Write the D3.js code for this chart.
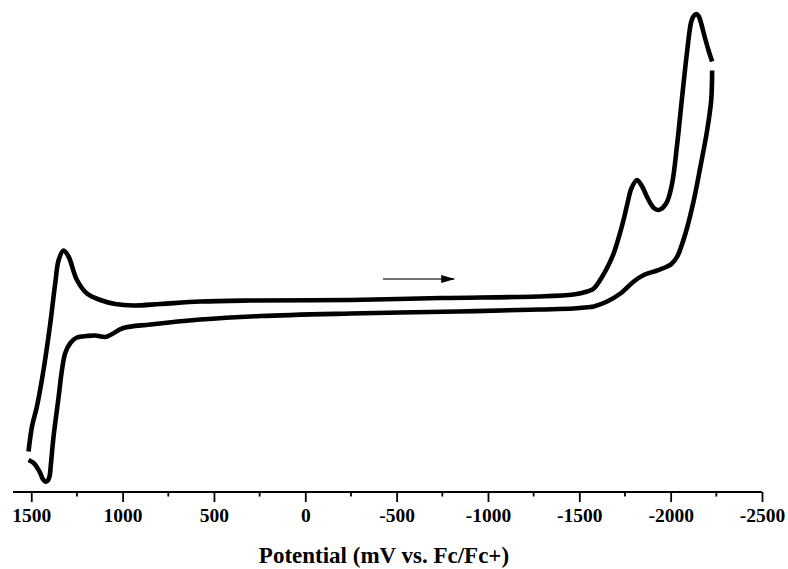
<!DOCTYPE html>
<html>
<head>
<meta charset="utf-8">
<script src="https://cdn.jsdelivr.net/npm/d3@7"></script>
<style>
  body { margin: 0; background: #fff; }
  svg { display: block; }
  .axis text { font-family: "Liberation Serif", "Times New Roman", serif; font-weight: bold; }
</style>
</head>
<body>
<div id="chart"></div>
<script>
// potential in mV, current in arbitrary units (no y axis on the original)
const forwardE = [1515, 1496, 1469, 1433, 1396, 1369, 1350, 1323, 1296, 1250, 1195, 1122, 1040, 940, 794, 575, 301, -247, -740, -1271, -1468, -1543, -1579, -1624, -1660, -1689, -1715, -1742, -1764, -1786, -1816, -1844, -1868, -1890, -1911, -1935, -1958, -1981, -2008, -2036, -2063, -2091, -2113, -2128, -2142, -2153, -2164, -2191, -2210, -2227]
const forwardI = [-30.3, -25.3, -21.3, -14, -4.7, 3.3, 8, 9.9, 8.7, 4, 1.3, 0, -0.8, -1.1, -0.8, -0.3, -0.1, 0, 0.4, 0.7, 1.1, 1.7, 2.3, 4.6, 7, 9.4, 12.4, 16, 19.4, 22.4, 24, 22.7, 20.8, 19.3, 18.3, 18, 18.5, 19.7, 23.3, 31.3, 40.7, 50, 55.7, 56.9, 57.2, 56.8, 55.7, 52, 49.6, 47.7]

const reverseE = [-2227, -2222, -2200, -2163, -2127, -2081, -2036, -2004, -1981, -1926, -1853, -1798, -1725, -1652, -1579, -1561, -1468, -1287, -833, -247, 246, 575, 848, 996, 1067, 1095, 1150, 1195, 1250, 1286, 1314, 1332, 1350, 1378, 1393, 1400, 1412, 1423, 1437, 1451, 1470, 1487, 1515]
const reverseI = [45.9, 40, 34, 26.7, 20, 13.3, 8.7, 7.2, 6.7, 5.9, 5, 3.7, 1.3, -0.3, -1.3, -1.4, -1.7, -1.9, -2.3, -2.7, -3.2, -3.9, -4.9, -5.6, -7, -7.4, -7.1, -7.2, -7.5, -8.6, -10.6, -14, -19.3, -27.3, -33, -35.3, -36.2, -36.3, -35.8, -34.6, -33.4, -32.6, -32]

const majorTicks = [1500, 1000, 500, 0, -500, -1000, -1500, -2000, -2500]
const minorTicks = [1250, 750, 250, -250, -750, -1250, -1750, -2250]

// scan direction arrow, start and end (mV, current)
const arrowE = [-425, -815]
const arrowI = [4.2, 4.2]

const width = 788
const height = 569

const svg = d3.select("#chart").append("svg")
    .attr("width", width)
    .attr("height", height)

const xPositionScale = d3.scaleLinear()
  .domain([1600, -2500])
  .range([13, 762])

const yPositionScale = d3.scaleLinear()
  .domain([-40, 60])
  .range([500, 0])

const line = d3.line()
  .x(d => xPositionScale(d[0]))
  .y(d => yPositionScale(d[1]))
  .curve(d3.curveCatmullRom.alpha(0.5))

const forward = forwardE.map((e, i) => [e, forwardI[i]])
const reverse = reverseE.map((e, i) => [e, reverseI[i]])

svg.selectAll('path.scan')
  .data([forward, reverse])
  .join('path')
  .attr('class', 'scan')
  .attr('d', line)
  .attr('fill', 'none')
  .attr('stroke', '#000')
  .attr('stroke-width', 4.6)
  .attr('stroke-linejoin', 'round')

// arrow
svg.append('defs').append('marker')
  .attr('id', 'head')
  .attr('viewBox', '0 0 14 8')
  .attr('refX', 13)
  .attr('refY', 4)
  .attr('markerWidth', 14)
  .attr('markerHeight', 8)
  .attr('markerUnits', 'userSpaceOnUse')
  .attr('orient', 'auto')
  .append('path')
  .attr('d', 'M0,0 L14,4 L0,8 Z')
  .attr('fill', '#000')

svg.append('line')
  .attr('x1', xPositionScale(arrowE[0]))
  .attr('y1', yPositionScale(arrowI[0]))
  .attr('x2', xPositionScale(arrowE[1]))
  .attr('y2', yPositionScale(arrowI[1]))
  .attr('stroke', '#444')
  .attr('stroke-width', 1.4)
  .attr('marker-end', 'url(#head)')

// x axis
const axisY = 492

const xAxis = d3.axisBottom(xPositionScale)
  .tickValues(majorTicks)
  .tickFormat(d3.format('d'))
  .tickSize(10)
  .tickPadding(6)

const axisG = svg.append('g')
  .attr('class', 'axis x-axis')
  .attr('transform', 'translate(0,' + axisY + ')')
  .call(xAxis)

axisG.select('.domain')
  .attr('d', 'M' + xPositionScale.range()[0] + ',0H' + xPositionScale.range()[1])
  .attr('stroke-width', 1.8)

axisG.selectAll('.tick line').attr('stroke-width', 1.8)
axisG.selectAll('.tick text')
  .attr('font-size', 19.5)
  .attr('fill', '#000')
  .text(d => d3.format('d')(d).replace('−', '-'))

axisG.selectAll('line.minor')
  .data(minorTicks)
  .join('line')
  .attr('class', 'minor')
  .attr('x1', d => xPositionScale(d))
  .attr('x2', d => xPositionScale(d))
  .attr('y1', 0)
  .attr('y2', 4.5)
  .attr('stroke', '#000')
  .attr('stroke-width', 1.8)

svg.append('text')
  .attr('x', 384)
  .attr('y', 563)
  .attr('text-anchor', 'middle')
  .attr('font-family', '"Liberation Serif", "Times New Roman", serif')
  .attr('font-weight', 'bold')
  .attr('font-size', 23)
  .text('Potential (mV vs. Fc/Fc+)')
</script>
</body>
</html>
